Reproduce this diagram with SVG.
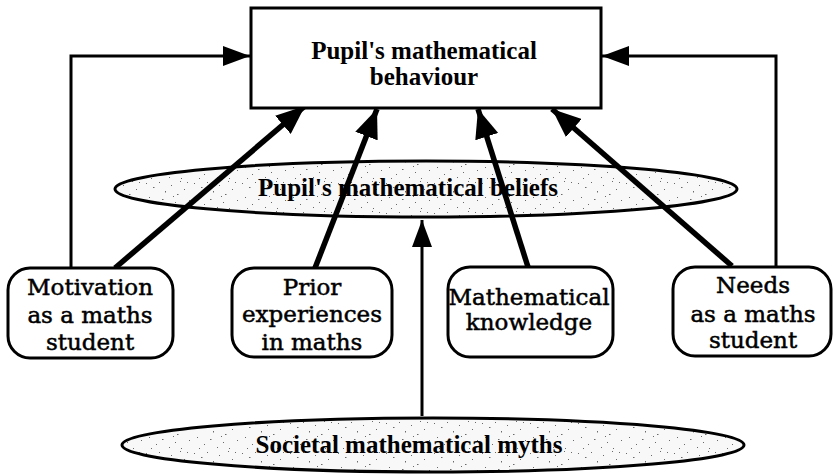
<svg xmlns="http://www.w3.org/2000/svg" width="834" height="476" viewBox="0 0 834 476">
  <defs>
    <style>
      .box { fill: #fff; stroke: #000; stroke-width: 3; }
      .oval { fill: url(#stipple); stroke: #000; stroke-width: 3; }
      .title { font-family: "Liberation Serif", "Times New Roman", serif; font-weight: bold; font-size: 25px; fill: #000; text-anchor: middle; }
      .label { font-family: "DejaVu Serif", "Liberation Serif", serif; font-size: 23px; fill: #000; stroke: #000; stroke-width: 0.5; text-anchor: middle; }
      .thin { fill: none; stroke: #000; stroke-width: 3; }
      .thick { fill: none; stroke: #000; stroke-width: 5.5; }
    </style>
    <!-- speckled grey fill for the belief ovals -->
    <pattern id="stipple" width="48" height="30" patternUnits="userSpaceOnUse">
      <rect width="48" height="30" fill="#f8f8f8"/>
      <g fill="#6a6a6a">
        <rect x="2" y="3" width="1" height="1"/>
        <rect x="9" y="7" width="1.5" height="1"/>
        <rect x="15" y="2" width="1" height="1"/>
        <rect x="21" y="11" width="1" height="1.5"/>
        <rect x="27" y="5" width="1" height="1"/>
        <rect x="33" y="14" width="1.5" height="1"/>
        <rect x="40" y="9" width="1" height="1"/>
        <rect x="45" y="20" width="1" height="1"/>
        <rect x="5" y="17" width="1" height="1"/>
        <rect x="12" y="24" width="1" height="1"/>
        <rect x="18" y="19" width="1.5" height="1"/>
        <rect x="25" y="27" width="1" height="1"/>
        <rect x="31" y="22" width="1" height="1"/>
        <rect x="37" y="28" width="1" height="1"/>
        <rect x="43" y="2" width="1" height="1"/>
        <rect x="7" y="28" width="1" height="1"/>
        <rect x="29" y="16" width="1" height="1"/>
        <rect x="36" y="1" width="1" height="1"/>
      </g>
    </pattern>
    <marker id="headThin" markerUnits="userSpaceOnUse" markerWidth="28" markerHeight="20" refX="27" refY="10" orient="auto">
      <path d="M0,0 L27,10 L0,20 Z" fill="#000"/>
    </marker>
    <marker id="headThick" markerUnits="userSpaceOnUse" markerWidth="30" markerHeight="24" refX="29" refY="12" orient="auto">
      <path d="M0,0 L29,12 L0,24 Z" fill="#000"/>
    </marker>
  </defs>

  <rect width="834" height="476" fill="#fff"/>

  <!-- belief layers -->
  <g id="beliefs">
    <ellipse class="oval" cx="426" cy="189" rx="311" ry="28"/>
    <text class="title" x="408" y="196">Pupil's mathematical beliefs</text>
  </g>
  <g id="myths">
    <ellipse class="oval" cx="433" cy="445" rx="311" ry="27"/>
    <text class="title" x="409" y="453" font-size="24">Societal mathematical myths</text>
  </g>

  <!-- connectors -->
  <g id="connectors">
    <path class="thin" d="M71,268 V56 H250" marker-end="url(#headThin)"/>
    <path class="thin" d="M776,267 V56 H602" marker-end="url(#headThin)"/>
    <path class="thin" d="M422,416 V220" marker-end="url(#headThin)"/>
    <path class="thick" d="M115,268 L305,106" marker-end="url(#headThick)"/>
    <path class="thick" d="M315,268 L377,109" marker-end="url(#headThick)"/>
    <path class="thick" d="M528,267 L478,109" marker-end="url(#headThick)"/>
    <path class="thick" d="M732,266 L552,109" marker-end="url(#headThick)"/>
  </g>

  <!-- outcome -->
  <g id="behaviour">
    <rect class="box" x="251" y="8" width="350" height="100"/>
    <text class="title" x="424" y="59">Pupil's mathematical</text>
    <text class="title" x="424" y="85">behaviour</text>
  </g>

  <!-- influencing factors -->
  <g id="motivation">
    <rect class="box" x="8" y="268" width="165" height="90" rx="22"/>
    <text class="label" x="90" y="295">Motivation</text>
    <text class="label" x="90" y="323">as a maths</text>
    <text class="label" x="90" y="350">student</text>
  </g>
  <g id="prior">
    <rect class="box" x="232" y="268" width="160" height="89" rx="22"/>
    <text class="label" x="312" y="295">Prior</text>
    <text class="label" x="312" y="322">experiences</text>
    <text class="label" x="312" y="350">in maths</text>
  </g>
  <g id="knowledge">
    <rect class="box" x="448" y="267" width="165" height="90" rx="22"/>
    <text class="label" x="529" y="305">Mathematical</text>
    <text class="label" x="529" y="330">knowledge</text>
  </g>
  <g id="needs">
    <rect class="box" x="673" y="267" width="158" height="89" rx="22"/>
    <text class="label" x="753" y="293">Needs</text>
    <text class="label" x="753" y="322">as a maths</text>
    <text class="label" x="753" y="348">student</text>
  </g>
</svg>
